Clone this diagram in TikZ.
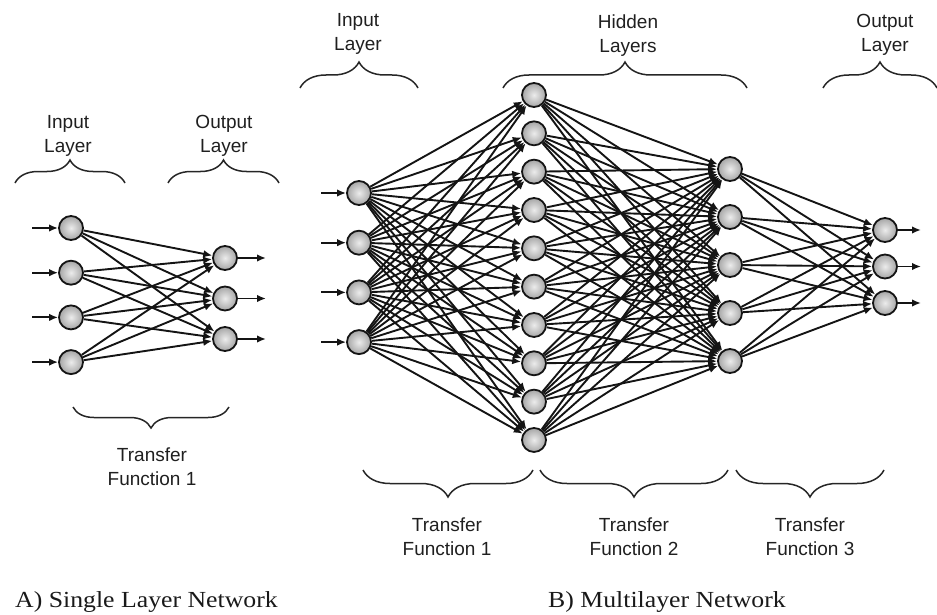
\documentclass[tikz,border=0pt]{standalone}
\usepackage{graphicx}
\usepackage{fontspec}
\newfontfamily\lblfont{Liberation Sans}
\newfontfamily\capfont{Liberation Serif}
\usetikzlibrary{arrows.meta,decorations.pathreplacing}
\begin{document}
\begin{tikzpicture}[x=1pt,y=-1pt,
  neuron/.style={circle,draw=black!92,line width=1.8pt,minimum size=24pt,inner sep=0pt,inner color=gray!15,outer color=gray!70},
  link/.style={draw=black!92,line width=1.9pt,-{Latex[length=9pt,width=7.5pt]}},
  bracestyle/.style={draw=black!85,line width=1.5pt,decorate,decoration={brace,amplitude=#1}},
  lbl/.style={font=\lblfont\fontsize{19}{24}\selectfont,text=black!88,align=center,anchor=north,inner sep=0pt},
  captxt/.style={anchor=base west,inner sep=0pt,text=black!90}
]
\useasboundingbox (0,0) rectangle (937,615);

% ---------- Panel A ----------
\foreach \i in {1,...,4} {
  \node[neuron] (ai-\i) at (71,{228+44.7*(\i-1)}) {};
  \coordinate (asrc-\i) at (32,{228+44.7*(\i-1)});
}
\foreach \j in {1,...,3} {
  \node[neuron] (ao-\j) at (225,{258+40.5*(\j-1)}) {};
  \coordinate (adst-\j) at (266,{258+40.5*(\j-1)});
}
\foreach \i in {1,...,4} \draw[link] (asrc-\i) -- (ai-\i);
\foreach \i in {1,...,4} \foreach \j in {1,...,3} \draw[link] (ai-\i) -- (ao-\j);
\foreach \j in {1,...,3} \draw[link] (ao-\j) -- (adst-\j);

\coordinate (abr1a) at (15,183);  \coordinate (abr1b) at (125,183);
\coordinate (abr2a) at (168,183); \coordinate (abr2b) at (279,183);
\coordinate (abr3a) at (229,407); \coordinate (abr3b) at (73,407);
\draw[bracestyle=23pt] (abr1a) -- (abr1b);
\draw[bracestyle=23pt] (abr2a) -- (abr2b);
\draw[bracestyle=21pt] (abr3a) -- (abr3b);

\node[lbl] (ainlbl) at (68,115) {Input\\Layer};
\node[lbl] (aoutlbl) at (224,115) {Output\\Layer};
\node[lbl] (atflbl) at (152,448) {Transfer\\Function 1};

% ---------- Panel B ----------
\foreach \i in {1,...,4} {
  \node[neuron] (bi-\i) at (359,{193+49.7*(\i-1)}) {};
  \coordinate (bsrc-\i) at (321,{193+49.7*(\i-1)});
}
\foreach \i in {1,...,10} \node[neuron] (bh-\i) at (534,{95+38.33*(\i-1)}) {};
\foreach \i in {1,...,5} \node[neuron] (bk-\i) at (730,{169+48*(\i-1)}) {};
\foreach \j in {1,...,3} {
  \node[neuron] (bo-\j) at (885,{230+36.5*(\j-1)}) {};
  \coordinate (bdst-\j) at (921,{230+36.5*(\j-1)});
}
\foreach \i in {1,...,4} \draw[link] (bsrc-\i) -- (bi-\i);
\foreach \i in {1,...,4} \foreach \j in {1,...,10} \draw[link] (bi-\i) -- (bh-\j);
\foreach \i in {1,...,10} \foreach \j in {1,...,5} \draw[link] (bh-\i) -- (bk-\j);
\foreach \i in {1,...,5} \foreach \j in {1,...,3} \draw[link] (bk-\i) -- (bo-\j);
\foreach \j in {1,...,3} \draw[link] (bo-\j) -- (bdst-\j);

\coordinate (bbr1a) at (300,88); \coordinate (bbr1b) at (418,88);
\coordinate (bbr2a) at (503,88); \coordinate (bbr2b) at (747,88);
\coordinate (bbr3a) at (823,88); \coordinate (bbr3b) at (937,88);
\draw[bracestyle=26pt] (bbr1a) -- (bbr1b);
\draw[bracestyle=26pt] (bbr2a) -- (bbr2b);
\draw[bracestyle=26pt] (bbr3a) -- (bbr3b);

\coordinate (bbr4a) at (533,470); \coordinate (bbr4b) at (363,470);
\coordinate (bbr5a) at (728,470); \coordinate (bbr5b) at (540,470);
\coordinate (bbr6a) at (884,470); \coordinate (bbr6b) at (736,470);
\draw[bracestyle=27pt] (bbr4a) -- (bbr4b);
\draw[bracestyle=27pt] (bbr5a) -- (bbr5b);
\draw[bracestyle=27pt] (bbr6a) -- (bbr6b);

\node[lbl] (binlbl) at (358,13) {Input\\Layer};
\node[lbl] (bhidlbl) at (628,15) {Hidden\\Layers};
\node[lbl] (boutlbl) at (885,14) {Output\\Layer};
\node[lbl] (btf1) at (447,518) {Transfer\\Function 1};
\node[lbl] (btf2) at (634,518) {Transfer\\Function 2};
\node[lbl] (btf3) at (810,518) {Transfer\\Function 3};

% ---------- Captions ----------
\node[captxt] (capA) at (15,607) {\scalebox{1.12}[1]{\capfont\fontsize{23}{23}\selectfont A) Single Layer Network}};
\node[captxt] (capB) at (548,607) {\scalebox{1.12}[1]{\capfont\fontsize{23}{23}\selectfont B) Multilayer Network}};
\end{tikzpicture}
\end{document}
